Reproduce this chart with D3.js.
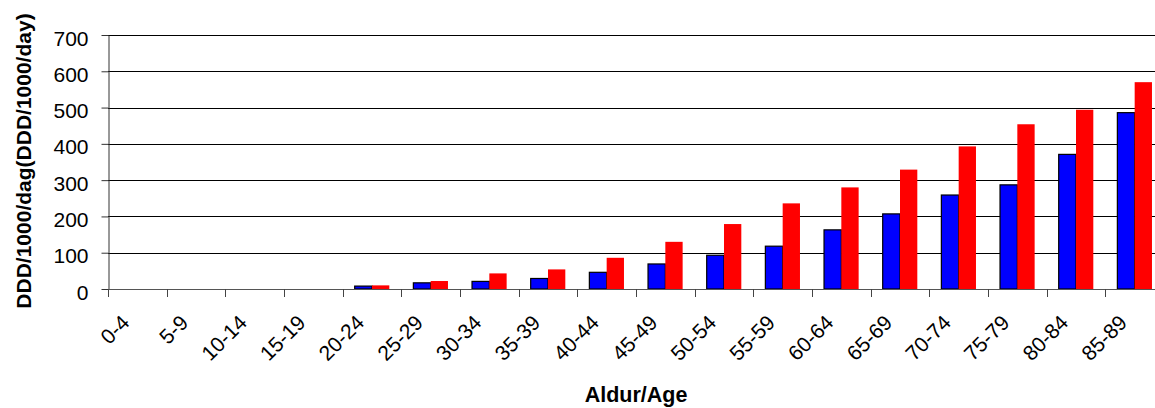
<!DOCTYPE html>
<html>
<head>
<meta charset="utf-8">
<script src="https://cdn.jsdelivr.net/npm/d3@7"></script>
<style>
  html, body { margin: 0; padding: 0; background: #fff; overflow: hidden; }
  text { font-family: "Liberation Sans", Arial, sans-serif; fill: #000; }
</style>
</head>
<body>
<svg id="chart" width="1155" height="408"></svg>
<script>
const categories = ["0-4","5-9","10-14","15-19","20-24","25-29","30-34","35-39","40-44","45-49","50-54","55-59","60-64","65-69","70-74","75-79","80-84","85-89"];
const seriesBlue = [0,0,0,0,8,17,21,29,46,69,93,118,163,207,259,287,371,486];
const seriesRed  = [0,0,0,0,10,22,43,54,86,130,179,236,280,329,393,454,494,570];
const yTicks = [0,100,200,300,400,500,600,700];
const yTitle = "DDD/1000/dag(DDD/1000/day)";
const xTitle = "Aldur/Age";

(function () {
const svg = d3.select("#chart");
const mLeft = 108, mRight = 1164, mTop = 35, mBottom = 289;

const x0 = d3.scaleBand().domain(categories).range([mLeft, mRight])
  .paddingInner(0.41).paddingOuter(0.205);
const x1 = d3.scaleBand().domain(["blue","red"]).range([0, x0.bandwidth()]);
const y = d3.scaleLinear().domain([0, 700]).range([mBottom, mTop]);
const step = x0.step();

// gridlines
svg.append("g").selectAll("line").data(yTicks.filter(d => d > 0)).join("line")
  .attr("x1", mLeft).attr("x2", 1155)
  .attr("y1", d => Math.round(y(d)) + 0.5).attr("y2", d => Math.round(y(d)) + 0.5)
  .attr("stroke", "#000").attr("stroke-width", 1);

// bars
const rows = categories.map((c, i) => ({c, blue: seriesBlue[i], red: seriesRed[i]}));
const g = svg.append("g");
rows.forEach(r => {
  if (r.blue > 0) g.append("rect")
    .attr("x", x0(r.c) + x1("blue")).attr("width", x1.bandwidth())
    .attr("y", y(r.blue)).attr("height", y(0) - y(r.blue))
    .attr("fill", "#0000ff").attr("stroke", "#000").attr("stroke-width", 1.2);
  if (r.red > 0) g.append("rect")
    .attr("x", x0(r.c) + x1("red")).attr("width", x1.bandwidth())
    .attr("y", y(r.red)).attr("height", y(0) - y(r.red))
    .attr("fill", "#ff0000");
});

// y axis
const yAxis = d3.axisLeft(y).tickValues(yTicks).tickSize(7).tickSizeOuter(0).tickPadding(13);
const ya = svg.append("g").attr("transform", `translate(${mLeft + 0.5},0)`).call(yAxis);
ya.attr("font-family", null).attr("font-size", null);
ya.select(".domain").attr("stroke", "#333");
ya.selectAll(".tick line").attr("stroke", "#333");
ya.selectAll(".tick text").attr("font-size", 21).attr("dy", "0.48em").attr("fill", "#000");

// x axis baseline and ticks at category boundaries
const xa = svg.append("g");
xa.append("line").attr("x1", mLeft).attr("x2", 1155)
  .attr("y1", Math.round(y(0)) + 0.5).attr("y2", Math.round(y(0)) + 0.5)
  .attr("stroke", "#555");
const bounds = d3.range(categories.length + 1).map(i => mLeft + i * step);
xa.selectAll("line.tk").data(bounds.filter(b => b <= 1155)).join("line").attr("class", "tk")
  .attr("x1", d => Math.round(d) + 0.5).attr("x2", d => Math.round(d) + 0.5)
  .attr("y1", Math.round(y(0))).attr("y2", Math.round(y(0)) + 8)
  .attr("stroke", "#444");
xa.selectAll("text").data(categories).join("text")
  .attr("transform", d => `translate(${x0(d) + x0.bandwidth() / 2 - 6.5},324) rotate(-45)`)
  .attr("text-anchor", "end").attr("font-size", 21).text(d => d);

// titles
svg.append("text").attr("transform", "translate(31,161) rotate(-90)")
  .attr("text-anchor", "middle").attr("font-size", 21).attr("font-weight", "bold").text(yTitle);
svg.append("text").attr("x", (mLeft + mRight) / 2).attr("y", 402)
  .attr("text-anchor", "middle").attr("font-size", 21.5).attr("font-weight", "bold").text(xTitle);
})();
</script>
</body>
</html>
